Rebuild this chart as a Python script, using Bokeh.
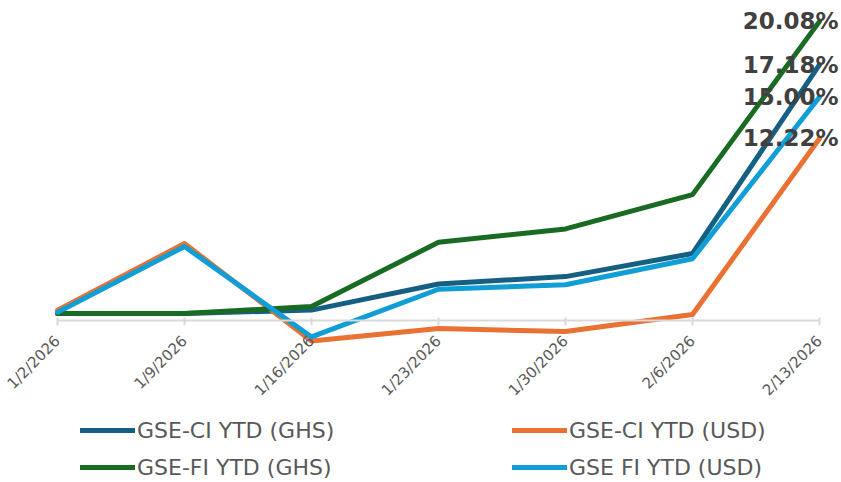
import math
from bokeh.plotting import figure
from bokeh.models import FixedTicker, Legend, LegendItem, Range1d, ColumnDataSource
from bokeh.core.properties import value
from bokeh.embed import file_html
from bokeh.resources import INLINE

dates = ["1/2/2026", "1/9/2026", "1/16/2026", "1/23/2026", "1/30/2026", "2/6/2026", "2/13/2026"]
ci_ghs = [0.47, 0.47, 0.70, 2.45, 2.95, 4.50, 17.18]
ci_usd = [0.70, 5.17, -1.38, -0.54, -0.74, 0.40, 12.22]
fi_ghs = [0.47, 0.47, 0.94, 5.25, 6.15, 8.45, 20.08]
fi_usd = [0.55, 4.97, -1.10, 2.10, 2.40, 4.15, 15.00]

series = [
    ("GSE-CI YTD (GHS)", ci_ghs, "#156082"),
    ("GSE-CI YTD (USD)", ci_usd, "#E97132"),
    ("GSE-FI YTD (GHS)", fi_ghs, "#196B24"),
    ("GSE FI YTD (USD)", fi_usd, "#0F9ED5"),
]

idx = list(range(len(dates)))

p = figure(width=841, height=482, output_backend="svg", toolbar_location=None,
           y_axis_location=None,
           x_range=Range1d(-0.449, 6.173), y_range=Range1d(-10.87, 21.48),
           min_border_left=0, min_border_right=0, min_border_top=0, min_border_bottom=0)
p.outline_line_color = None
p.xgrid.visible = False
p.ygrid.visible = False
p.background_fill_color = "white"

ax = p.xaxis[0]
ax.fixed_location = 0
ax.bounds = (idx[0], idx[-1])
ax.ticker = FixedTicker(ticks=idx)
ax.major_label_overrides = {i: d for i, d in enumerate(dates)}
ax.major_label_orientation = math.pi / 4
ax.major_label_text_font = "DejaVu Sans"
ax.major_label_text_font_size = "15px"
ax.major_label_text_color = "#595959"
ax.major_label_standoff = 13
ax.axis_line_color = "#D9D9D9"
ax.axis_line_width = 2
ax.major_tick_line_color = "#D9D9D9"
ax.major_tick_line_width = 2
ax.major_tick_in = 3
ax.major_tick_out = 5
ax.minor_tick_line_color = None

renderers = {}
for name, vals, col in series:
    r = p.line(idx, vals, line_color=col, line_width=5, line_cap="round", line_join="round")
    renderers[name] = r

order = ["GSE-CI YTD (GHS)", "GSE-FI YTD (GHS)", "GSE-CI YTD (USD)", "GSE FI YTD (USD)"]
items = [LegendItem(label=n, renderers=[renderers[n]]) for n in order]

last = [s[1][-1] for s in series]
lab_src = ColumnDataSource(dict(x=[idx[-1]] * 4, y=last, t=["%.2f%%" % v for v in last]))
p.text(x="x", y="y", text="t", source=lab_src, text_align="right", text_baseline="middle",
       x_offset=19, text_font=value("DejaVu Sans"), text_font_style="bold",
       text_font_size="23px", text_color="#404040")

legend = Legend(items=items, ncols=2, location=(80, 2),
                padding=0, margin=0, spacing=11,
                glyph_width=55, glyph_height=26, label_height=26, label_width=364,
                label_standoff=2,
                label_text_font="DejaVu Sans", label_text_font_size="22px",
                label_text_color="#595959",
                background_fill_alpha=0, border_line_alpha=0)
p.add_layout(legend, "center")

open("out.html", "w").write(file_html(p, INLINE))
